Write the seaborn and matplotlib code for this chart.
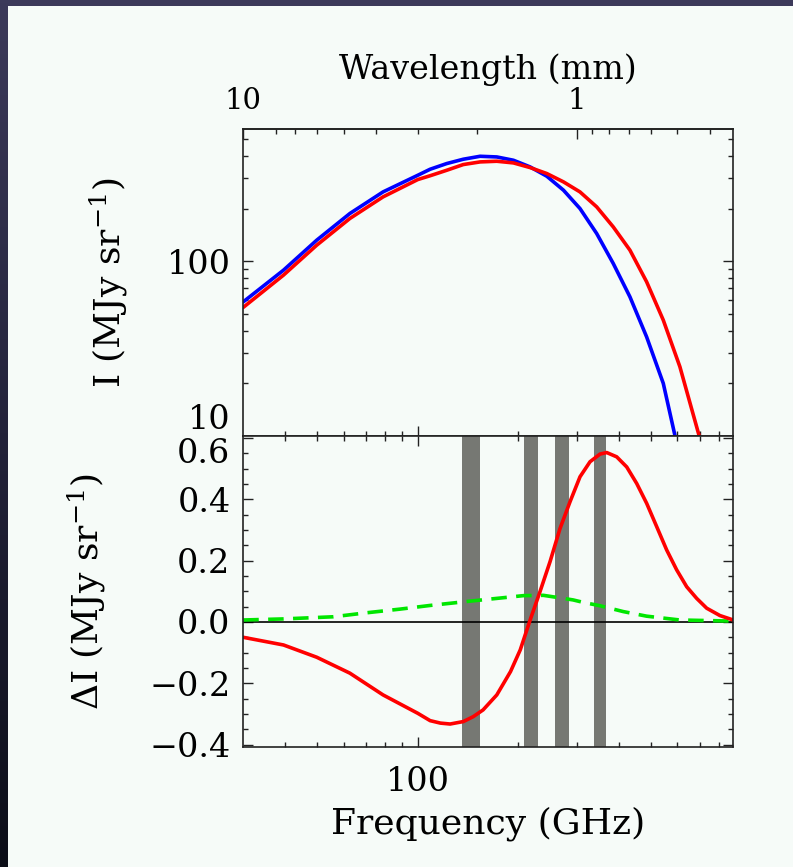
import numpy as np
import pandas as pd
import matplotlib
matplotlib.use("Agg")
import matplotlib.pyplot as plt
import seaborn as sns
from matplotlib.ticker import FixedLocator, NullFormatter, FuncFormatter, MultipleLocator
from matplotlib.colors import LinearSegmentedColormap
from matplotlib.patches import Rectangle

# ---------------- data ----------------
# upper panel: intensity spectra (GHz, MJy/sr)
freq_blue = [30.0, 39.6, 49.8, 62.6, 78.7, 100.0, 108.9, 122.1, 136.9, 153.7, 172.5,
             193.5, 217.1, 243.6, 273.3, 306.2, 343.6, 385.2, 432.2, 484.9, 544.0, 590.0]
I_blue = [58.5, 88.8, 131.8, 187.3, 248.9, 309.9, 335.5, 361.6, 382.8, 398.0, 394.5,
          377.7, 345.9, 306.0, 254.5, 200.0, 143.9, 97.0, 62.5, 36.9, 20.0, 10.0]

freq_red = [30.0, 39.6, 49.8, 62.6, 78.7, 100.0, 108.9, 122.1, 136.9, 153.7, 172.5,
            193.5, 217.1, 243.6, 273.3, 306.2, 343.6, 385.2, 432.2, 484.9, 544.0, 610.0, 697.0]
I_red = [54.4, 83.2, 123.4, 175.4, 233.1, 292.9, 308.0, 331.0, 356.9, 369.5, 372.8,
         364.7, 342.9, 317.0, 284.0, 248.9, 204.4, 157.0, 115.6, 76.2, 46.0, 24.9, 10.0]

# lower panel: difference spectra (GHz, MJy/sr)
freq_dI = [30.0, 39.6, 49.8, 62.6, 78.7, 100.0, 108.9, 116.9, 125.0, 136.9, 146.6, 156.9,
           172.5, 189.6, 202.8, 217.1, 232.4, 249.1, 266.8, 285.8, 306.3, 328.2, 351.6,
           368.2, 394.5, 422.7, 452.9, 485.2, 519.9, 556.9, 596.7, 639.4, 685.0, 733.9,
           804.1, 881.5]
dI_red = [-0.050, -0.075, -0.115, -0.167, -0.238, -0.298, -0.322, -0.330, -0.333, -0.325,
          -0.309, -0.287, -0.238, -0.162, -0.091, 0.0065, 0.099, 0.197, 0.305, 0.392,
          0.474, 0.523, 0.548, 0.553, 0.539, 0.506, 0.452, 0.387, 0.311, 0.235, 0.170,
          0.115, 0.077, 0.045, 0.021, 0.0065]

freq_kin = [30.0, 39.6, 55.8, 70.2, 88.5, 108.9, 125.0, 143.3, 172.5, 207.3, 237.8,
            273.3, 292.0, 313.2, 351.6, 412.6, 484.9, 610.0, 874.6]
dI_green = [0.0065, 0.010, 0.017, 0.030, 0.042, 0.054, 0.061, 0.068, 0.077, 0.086, 0.087,
            0.077, 0.072, 0.064, 0.053, 0.034, 0.019, 0.0065, 0.003]

# observing bands (GHz)
band_lo = [136, 208, 257, 337]
band_hi = [154, 229, 284, 366]

# ticks
x_major = [100]
x_minor = [40, 50, 60, 70, 80, 90, 200, 300, 400, 500, 600, 700, 800]
y_top_major = [10, 100]
y_top_minor = [20, 30, 40, 50, 60, 70, 80, 90, 200, 300, 400, 500]
wl_major = [10, 1]
wl_minor = [8, 7, 6, 5, 4, 3, 2, 0.9, 0.8, 0.7, 0.6, 0.5, 0.4]
dI_major = [-0.4, -0.2, 0.0, 0.2, 0.4, 0.6]

# ---------------- style ----------------
BG = "#f6fbf8"
sns.set_theme(style="ticks")
plt.rcParams["font.family"] = ["DejaVu Serif"]
plt.rcParams["mathtext.fontset"] = "dejavuserif"
plt.rcParams["axes.linewidth"] = 1.2
plt.rcParams["axes.edgecolor"] = "#222222"

fig = plt.figure(figsize=(7.93, 8.67), dpi=100, facecolor=BG)

# dark frame (top strip and left gradient strip)
fig.add_artist(Rectangle((0, 1 - 6 / 867), 1, 6 / 867, transform=fig.transFigure,
                         color="#3c3a5a", lw=0, zorder=-5))
axb = fig.add_axes([0, 0, 8 / 793, 1])
cm = LinearSegmentedColormap.from_list("edge", ["#3c3a5a", "#23233a", "#0c0e18"])
axb.imshow(np.linspace(0, 1, 256)[:, None], aspect="auto", cmap=cm)
axb.set_axis_off()

L, R = 243 / 793, 733 / 793
ax1 = fig.add_axes([L, 1 - 436 / 867, R - L, (436 - 129) / 867])
ax2 = fig.add_axes([L, 1 - 747 / 867, R - L, (747 - 436) / 867])
for ax in (ax1, ax2):
    ax.set_facecolor(BG)

LW = 2.6
TICK_FS = 24

# ---------------- upper panel ----------------
sns.lineplot(x=freq_blue, y=I_blue, ax=ax1, color="#0000ff", lw=LW, sort=False,
             estimator=None, zorder=3)
sns.lineplot(x=freq_red, y=I_red, ax=ax1, color="#ff0000", lw=LW, sort=False,
             estimator=None, zorder=4)
ax1.set_xscale("log")
ax1.set_yscale("log")
ax1.set_xlim(29.95, 880)
ax1.set_ylim(10, 570)

ax1.xaxis.set_major_locator(FixedLocator(x_major))
ax1.xaxis.set_minor_locator(FixedLocator(x_minor))
ax1.xaxis.set_major_formatter(NullFormatter())
ax1.xaxis.set_minor_formatter(NullFormatter())
ax1.yaxis.set_major_locator(FixedLocator(y_top_major))
ax1.yaxis.set_minor_locator(FixedLocator(y_top_minor))
ax1.yaxis.set_major_formatter(FuncFormatter(lambda v, p: f"{v:g}"))
ax1.yaxis.set_minor_formatter(NullFormatter())
ax1.tick_params(which="both", direction="in", left=True, right=True, bottom=True,
                top=False, labelbottom=False, labelleft=True, colors="#222222",
                labelcolor="black")
ax1.tick_params(which="major", length=7, width=1.0, labelsize=TICK_FS, pad=9)
ax1.tick_params(which="minor", length=3.5, width=1.0)
ax1.set_xlabel("")
ax1.set_ylabel("I (MJy sr$^{-1}$)", fontsize=26, color="black")
ax1.yaxis.set_label_coords(-0.231, 0.5)


def f2w(f):
    f = np.asarray(f, dtype=float)
    with np.errstate(divide="ignore", invalid="ignore"):
        return 300.0 / f


def w2f(w):
    w = np.asarray(w, dtype=float)
    with np.errstate(divide="ignore", invalid="ignore"):
        return 300.0 / w


sec = ax1.secondary_xaxis("top", functions=(f2w, w2f))
sec.xaxis.set_major_locator(FixedLocator(wl_major))
sec.xaxis.set_minor_locator(FixedLocator(wl_minor))
sec.xaxis.set_major_formatter(FuncFormatter(lambda v, p: f"{v:g}"))
sec.xaxis.set_minor_formatter(NullFormatter())
sec.tick_params(which="both", direction="in", colors="#222222", labelcolor="black")
sec.tick_params(which="major", length=7, width=1.0, labelsize=21, pad=10)
sec.tick_params(which="minor", length=3.5, width=1.0)
sec.set_xlabel("Wavelength (mm)", fontsize=24, labelpad=6, color="black")

# ---------------- lower panel ----------------
for lo, hi in zip(band_lo, band_hi):
    ax2.axvspan(lo, hi, color="#767873", lw=0, zorder=1)
ax2.axhline(0, color="black", lw=1.2, zorder=2)
sns.lineplot(x=freq_kin, y=dI_green, ax=ax2, color="#00e600", lw=LW, sort=False,
             estimator=None, linestyle=(0, (4.3, 2.6)), zorder=3)
sns.lineplot(x=freq_dI, y=dI_red, ax=ax2, color="#ff0000", lw=LW, sort=False,
             estimator=None, zorder=4)
ax2.set_xscale("log")
ax2.set_xlim(29.95, 880)
ax2.set_ylim(-0.408, 0.607)

ax2.xaxis.set_major_locator(FixedLocator(x_major))
ax2.xaxis.set_minor_locator(FixedLocator(x_minor))
ax2.xaxis.set_major_formatter(FuncFormatter(lambda v, p: f"{v:g}"))
ax2.xaxis.set_minor_formatter(NullFormatter())
ax2.yaxis.set_major_locator(FixedLocator(dI_major))
ax2.yaxis.set_minor_locator(MultipleLocator(0.05))
ax2.yaxis.set_major_formatter(FuncFormatter(lambda v, p: f"{v:.1f}".replace("-", "\u2212")))
ax2.tick_params(which="both", direction="in", left=True, right=True, bottom=True,
                top=True, labeltop=False, colors="#222222", labelcolor="black")
ax2.tick_params(which="major", length=7, width=1.0, labelsize=TICK_FS)
ax2.tick_params(axis="y", which="major", pad=9)
ax2.tick_params(axis="x", which="major", pad=14)
ax2.tick_params(which="minor", length=3.5, width=1.0)
ax2.set_xlabel("Frequency (GHz)", fontsize=26, labelpad=6, color="black")
ax2.set_ylabel("\u0394I (MJy sr$^{-1}$)", fontsize=26, color="black")
ax2.yaxis.set_label_coords(-0.276, 0.5)

# the "10" and "0.6" labels meet at the panel junction: nudge them apart
ax1.yaxis.get_major_ticks()[0].label1.set_va("bottom")
ax2.yaxis.get_major_ticks()[5].label1.set_va("top")

for ax in (ax1, ax2):
    for s in ax.spines.values():
        s.set_linewidth(1.2)
        s.set_color("#222222")
        s.set_zorder(5)

fig.savefig("out.png", dpi=100, facecolor=BG)
